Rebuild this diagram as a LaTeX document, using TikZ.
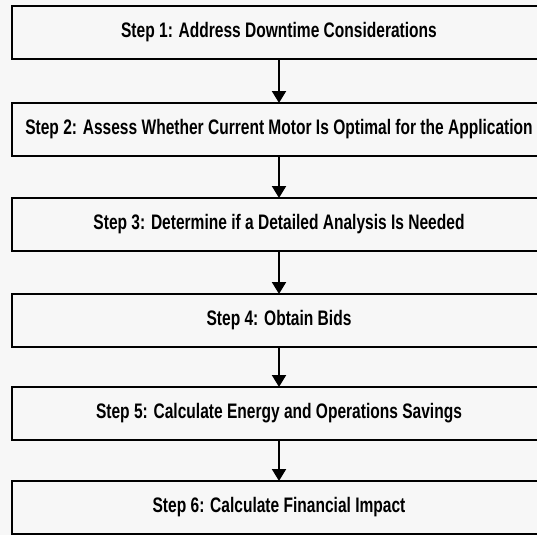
\documentclass[tikz,border=0pt]{standalone}
\usepackage{fontspec}
\setmainfont{Liberation Sans}[FakeStretch=0.74]
\usetikzlibrary{arrows.meta}
\definecolor{paper}{HTML}{F7F7F7}
\tikzset{
  stepbox/.style={draw=black, line width=1.8pt, fill=paper, minimum width=534pt,
    minimum height=53pt, inner sep=0pt, anchor=north,
    font=\fontsize{21}{25}\selectfont\bfseries},
  arr/.style={draw=black, line width=2pt, -{Triangle[width=14pt,length=12pt]}, shorten >=-1pt}
}
\begin{document}
\begin{tikzpicture}[x=1pt,y=1pt]
\useasboundingbox (0,0) rectangle (537,-535);
\fill[paper] (0,0) rectangle (537,-535);
\node[stepbox] (b1) at (279,-5) {Step 1: Address Downtime Considerations};
\node[stepbox] (b2) at (279,-102) {Step 2: Assess Whether Current Motor Is Optimal for the Application};
\node[stepbox] (b3) at (279,-197) {Step 3: Determine if a Detailed Analysis Is Needed};
\node[stepbox] (b4) at (279,-293) {Step 4: Obtain Bids};
\node[stepbox] (b5) at (279,-386) {Step 5: Calculate Energy and Operations Savings};
\node[stepbox] (b6) at (279,-480) {Step 6: Calculate Financial Impact};
\draw[arr] (b1.south) -- (b2.north);
\draw[arr] (b2.south) -- (b3.north);
\draw[arr] (b3.south) -- (b4.north);
\draw[arr] (b4.south) -- (b5.north);
\draw[arr] (b5.south) -- (b6.north);
\end{tikzpicture}
\end{document}
